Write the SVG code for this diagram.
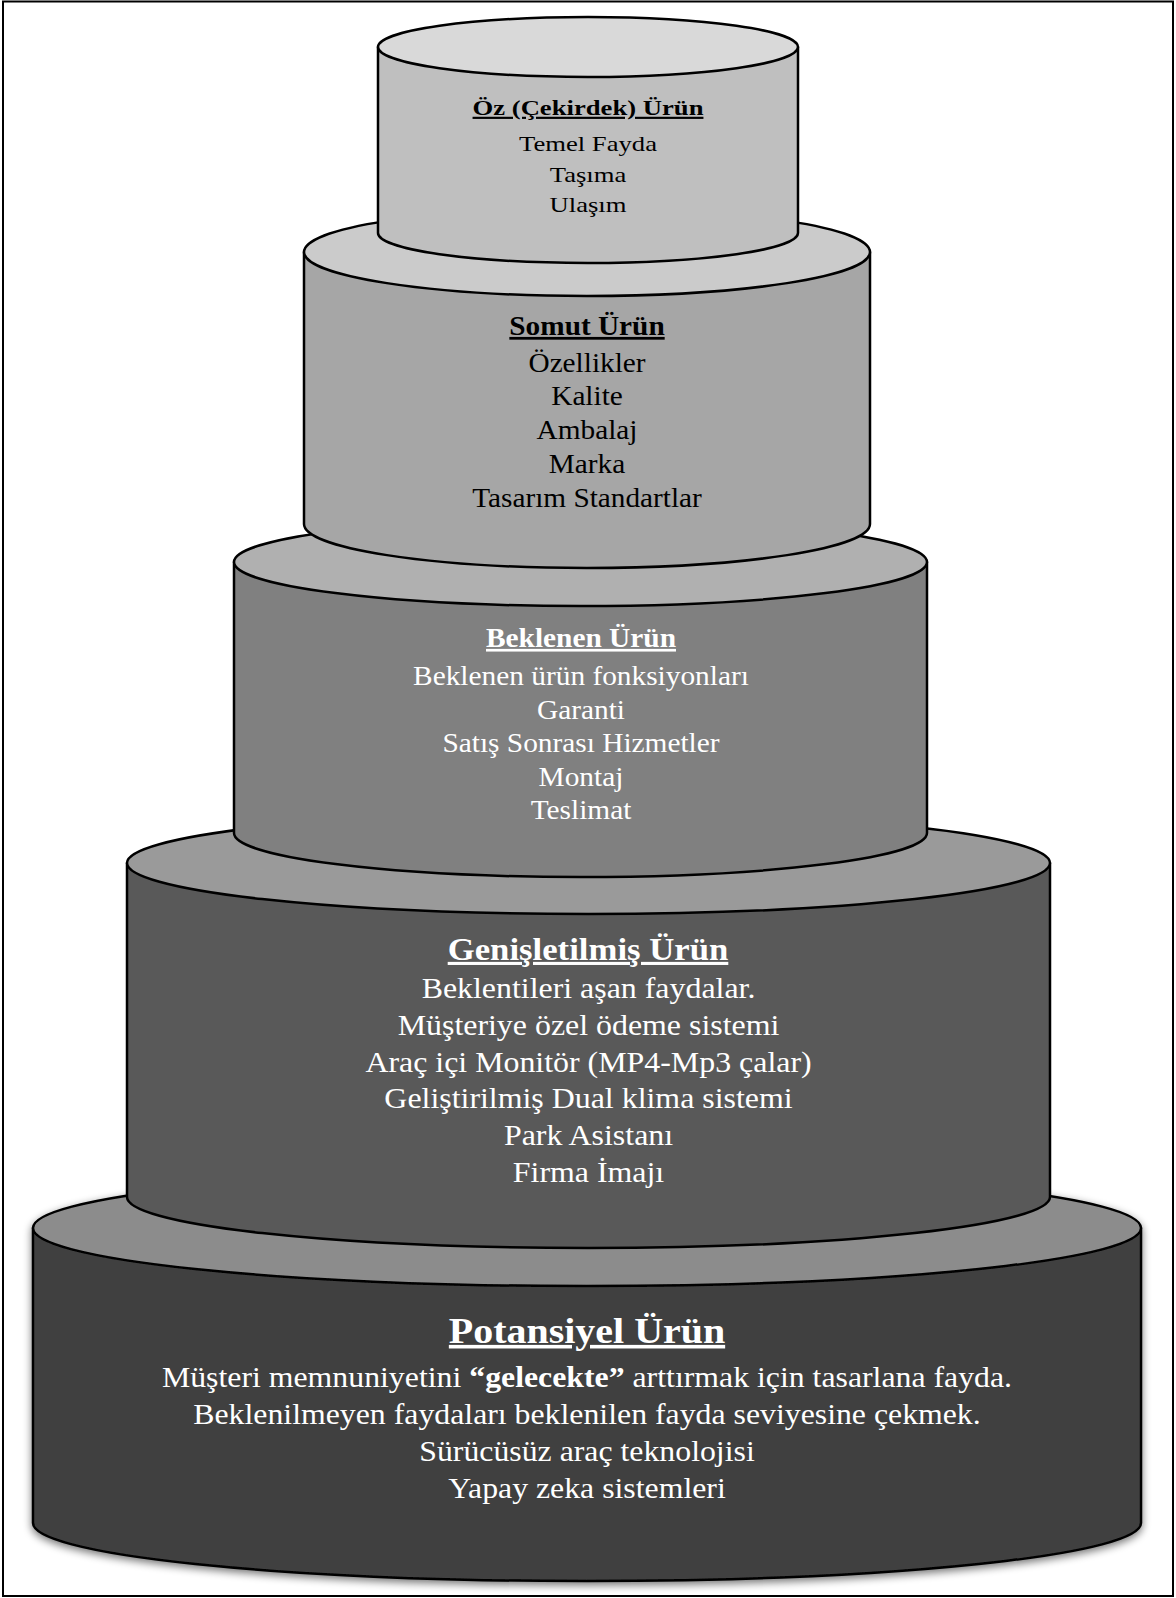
<svg xmlns="http://www.w3.org/2000/svg" width="1176" height="1598" viewBox="0 0 1176 1598">
  <defs>
    <style>
      .edge { stroke: #000; stroke-width: 2.5; stroke-linejoin: round; }
      .txt { font-family: "Liberation Serif", "Times New Roman", serif; text-anchor: middle; }
      .ttl { font-weight: bold; text-decoration: underline; }
      .dark { fill: #000; }
      .light { fill: #fff; }
    </style>
    <filter id="soft" x="-5%" y="-10%" width="110%" height="125%">
      <feGaussianBlur in="SourceAlpha" stdDeviation="4"/>
      <feOffset dx="0" dy="3" result="b"/>
      <feComponentTransfer><feFuncA type="linear" slope="0.55"/></feComponentTransfer>
      <feMerge><feMergeNode/><feMergeNode in="SourceGraphic"/></feMerge>
    </filter>
  </defs>

  <rect x="3" y="1.5" width="1170" height="1594.5" fill="#fff" stroke="#000" stroke-width="2"/>

  <!-- bottom tier -->
  <g id="potansiyel-urun">
    <g filter="url(#soft)">
      <path class="edge" fill="#404040" stroke-width="3" d="M33 1228 L33 1523 A554 58 0 0 0 1141 1523 L1141 1228 Z"/>
      <ellipse class="edge" cx="587" cy="1228" rx="554" ry="58" fill="#8c8c8c" stroke-width="3"/>
    </g>
    <g transform="translate(587 0) scale(1.11 1)">
      <text class="txt ttl light" x="0" y="1343" font-size="36">Potansiyel Ürün</text>
    </g>
    <g transform="translate(587 0) scale(1.06 1)" font-size="30">
      <text class="txt light" x="0" y="1387">Müşteri memnuniyetini <tspan font-weight="bold">“gelecekte”</tspan> arttırmak için tasarlana fayda.</text>
      <text class="txt light" x="0" y="1424">Beklenilmeyen faydaları beklenilen fayda seviyesine çekmek.</text>
      <text class="txt light" x="0" y="1461">Sürücüsüz araç teknolojisi</text>
      <text class="txt light" x="0" y="1498">Yapay zeka sistemleri</text>
    </g>
  </g>

  <!-- fourth tier -->
  <g id="genisletilmis-urun">
    <path class="edge" fill="#595959" d="M127 863 L127 1197 A461.5 51 0 0 0 1050 1197 L1050 863 Z"/>
    <ellipse class="edge" cx="588.5" cy="863" rx="461.5" ry="51" fill="#9a9a9a"/>
    <g transform="translate(588 0) scale(1.12 1)">
      <text class="txt ttl light" x="0" y="960" font-size="31">Genişletilmiş Ürün</text>
    </g>
    <g transform="translate(588.5 0) scale(1.1 1)" font-size="29">
      <text class="txt light" x="0" y="998">Beklentileri aşan faydalar.</text>
      <text class="txt light" x="0" y="1035">Müşteriye özel ödeme sistemi</text>
      <text class="txt light" x="0" y="1072">Araç içi Monitör (MP4-Mp3 çalar)</text>
      <text class="txt light" x="0" y="1108">Geliştirilmiş Dual klima sistemi</text>
      <text class="txt light" x="0" y="1145">Park Asistanı</text>
      <text class="txt light" x="0" y="1182">Firma İmajı</text>
    </g>
  </g>

  <!-- third tier -->
  <g id="beklenen-urun">
    <path class="edge" fill="#808080" d="M234 562 L234 833 A346.5 44 0 0 0 927 833 L927 562 Z"/>
    <ellipse class="edge" cx="580.5" cy="562" rx="346.5" ry="44" fill="#b0b0b0"/>
    <g transform="translate(581 0) scale(1.1 1)" font-size="26.7">
      <text class="txt ttl light" x="0" y="647">Beklenen Ürün</text>
      <text class="txt light" x="0" y="685">Beklenen ürün fonksiyonları</text>
      <text class="txt light" x="0" y="719">Garanti</text>
      <text class="txt light" x="0" y="752">Satış Sonrası Hizmetler</text>
      <text class="txt light" x="0" y="786">Montaj</text>
      <text class="txt light" x="0" y="819">Teslimat</text>
    </g>
  </g>

  <!-- second tier -->
  <g id="somut-urun">
    <path class="edge" fill="#a6a6a6" d="M304 252 L304 524 A283 44 0 0 0 870 524 L870 252 Z"/>
    <ellipse class="edge" cx="587" cy="252" rx="283" ry="44" fill="#cbcbcb"/>
    <g transform="translate(587 0) scale(1.065 1)" font-size="27.5">
      <text class="txt ttl dark" x="0" y="335">Somut Ürün</text>
      <text class="txt dark" x="0" y="372">Özellikler</text>
      <text class="txt dark" x="0" y="405">Kalite</text>
      <text class="txt dark" x="0" y="439">Ambalaj</text>
      <text class="txt dark" x="0" y="473">Marka</text>
      <text class="txt dark" x="0" y="507">Tasarım Standartlar</text>
    </g>
  </g>

  <!-- top tier -->
  <g id="oz-urun">
    <path class="edge" fill="#bfbfbf" d="M378 47 L378 233 A210 30 0 0 0 798 233 L798 47 Z"/>
    <ellipse class="edge" cx="588" cy="47" rx="210" ry="30" fill="#d9d9d9"/>
    <g transform="translate(588 0) scale(1.24 1)" font-size="21.5">
      <text class="txt ttl dark" x="0" y="115">Öz (Çekirdek) Ürün</text>
      <text class="txt dark" x="0" y="151">Temel Fayda</text>
      <text class="txt dark" x="0" y="182">Taşıma</text>
      <text class="txt dark" x="0" y="212">Ulaşım</text>
    </g>
  </g>

  <g id="connectors"/>
</svg>
